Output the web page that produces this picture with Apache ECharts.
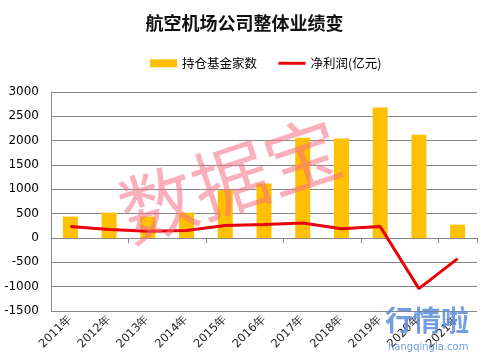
<!DOCTYPE html>
<html><head><meta charset="utf-8">
<script src="https://cdn.jsdelivr.net/npm/echarts@6/dist/echarts.min.js"></script>
<style>html,body{margin:0;padding:0;background:#fff}#c{width:489px;height:364px}</style>
</head><body><div id="c"></div>
<script>
var categories = ['2011年','2012年','2013年','2014年','2015年','2016年','2017年','2018年','2019年','2020年','2021年'];
var fundCounts = [440, 520, 440, 520, 990, 1120, 2060, 2045, 2680, 2120, 275];
var netProfit = [235, 175, 140, 155, 255, 275, 310, 190, 235, -1040, -425];
var yTicks = {min: -1500, max: 3000, interval: 500};

var chart = echarts.init(document.getElementById('c'));
chart.setOption({
  animation: false,
  backgroundColor: '#fff',
  title: {text: '航空机场公司整体业绩变', left: 'center', top: 9,
    textStyle: {fontSize: 18, fontWeight: 'bold', color: '#111', fontFamily: 'Noto Sans CJK SC'}},
  legend: {top: 52, left: 145, itemGap: 20, itemWidth: 27, itemHeight: 8,
    textStyle: {fontSize: 12.5, color: '#000', fontFamily: 'Noto Sans CJK SC'},
    data: [{name: '持仓基金家数', icon: 'rect'},
           {name: '净利润(亿元)', itemStyle: {color: 'rgba(0,0,0,0)', borderWidth: 0}, lineStyle: {color: '#E8000B', width: 3}}]},
  grid: {left: 51, right: 12, top: 92, bottom: 53},
  xAxis: [{
    type: 'category', data: categories, boundaryGap: true,
    axisLine: {onZero: true, lineStyle: {color: '#888', width: 1}},
    axisTick: {show: true, length: 5, lineStyle: {color: '#888'}},
    axisLabel: {show: false}
  }, {
    type: 'category', data: categories, position: 'bottom',
    axisLine: {show: false, onZero: false}, axisTick: {show: false},
    axisLabel: {rotate: 45, fontSize: 11.5, color: '#222', margin: 6, fontFamily: 'DejaVu Sans'}
  }],
  yAxis: {type: 'value', min: yTicks.min, max: yTicks.max, interval: yTicks.interval,
    axisLine: {show: true, lineStyle: {color: '#888'}},
    axisTick: {show: false},
    axisLabel: {fontSize: 12, color: '#000', margin: 12, fontFamily: 'DejaVu Sans',
      formatter: function (v) { return String(v); }},
    splitLine: {lineStyle: {color: '#888', width: 1}}},
  graphic: [
    {type: 'text', left: 110, top: 108, rotation: 0.32, z: 100,
      style: {text: '数据宝', fontSize: 76, fill: 'rgba(245,110,130,0.55)', fontFamily: 'Noto Sans CJK SC'}},
    {type: 'text', left: 385, top: 306, z: 100,
      style: {text: '行情啦', fontSize: 28, fontWeight: 'bold', fill: 'rgba(90,140,220,0.85)', fontFamily: 'Noto Sans CJK SC'}},
    {type: 'text', left: 388, top: 342, z: 100,
      style: {text: 'hangqingla.com', fontSize: 10, fill: 'rgba(90,140,220,0.85)', fontFamily: 'DejaVu Sans'}}
  ],
  series: [{
    name: '持仓基金家数', type: 'bar', data: fundCounts, barWidth: 15,
    itemStyle: {color: '#FFC000'}
  }, {
    name: '净利润(亿元)', type: 'line', data: netProfit, symbol: 'none', showSymbol: false,
    lineStyle: {color: '#E8000B', width: 3}, itemStyle: {color: '#E8000B'}
  }]
});
</script></body></html>
